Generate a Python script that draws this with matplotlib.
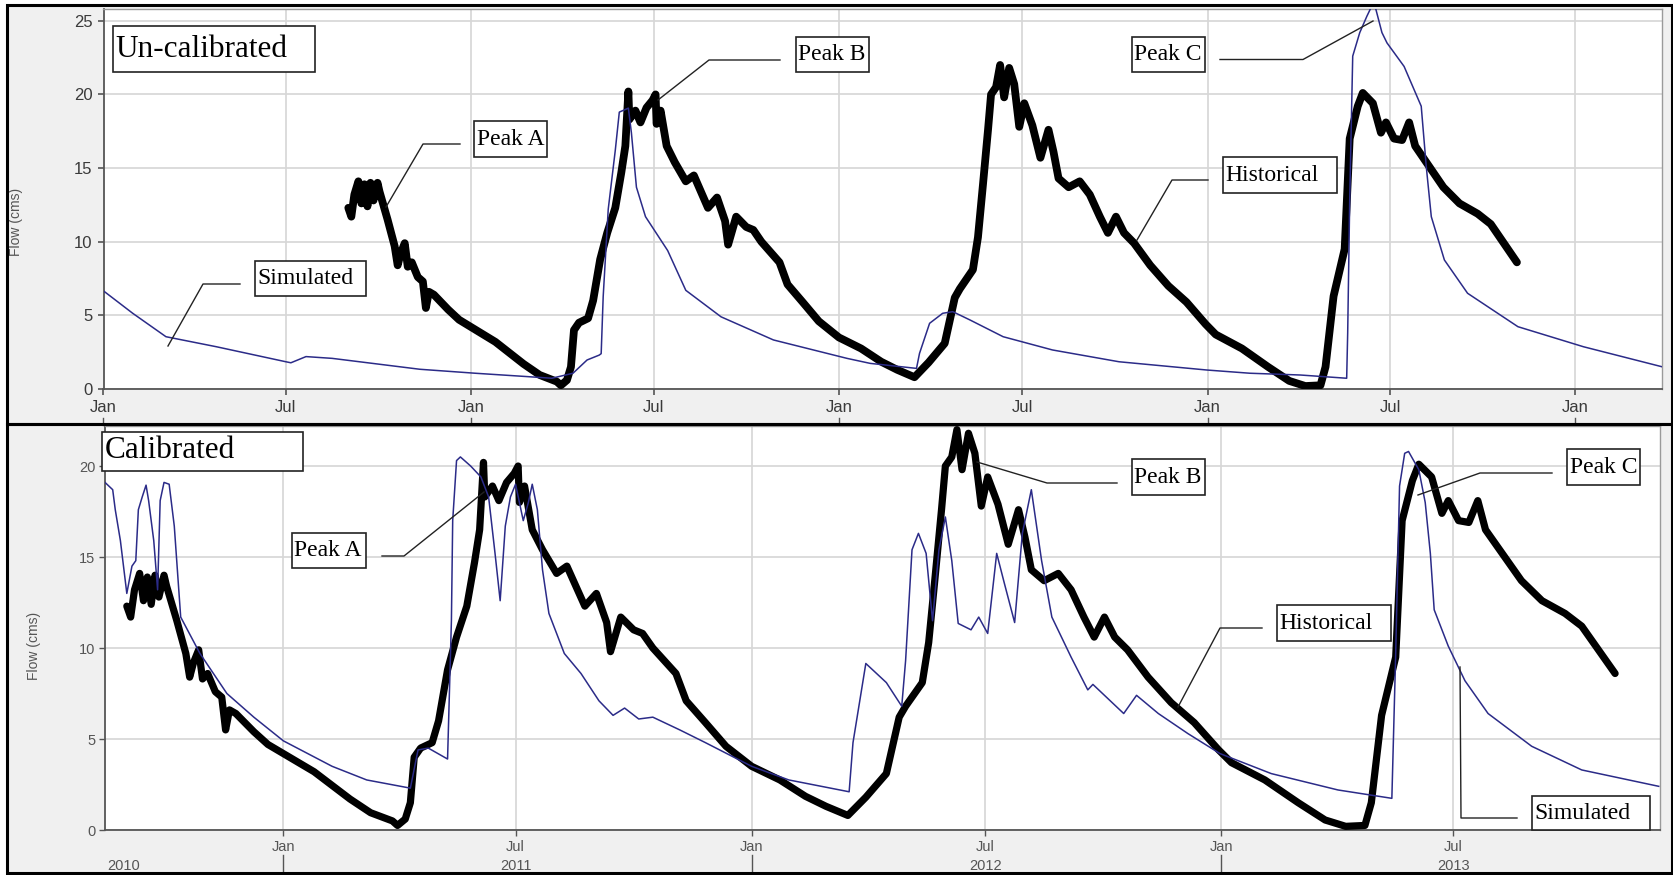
import numpy as np
import pandas as pd
from matplotlib import pyplot as plt
from matplotlib.patches import Rectangle
from matplotlib.lines import Line2D
import matplotlib.dates as mdates

W, H = 1673, 875

# observed flow (same record in both panels)
hist_dates = ['2010-09-01', '2010-09-04', '2010-09-07', '2010-09-11', '2010-09-14', '2010-09-17',
              '2010-09-20', '2010-09-23', '2010-09-26', '2010-09-30', '2010-10-02', '2010-10-10',
              '2010-10-17', '2010-10-20', '2010-10-23', '2010-10-27', '2010-10-30', '2010-11-03',
              '2010-11-09', '2010-11-14', '2010-11-17', '2010-11-20', '2010-11-25', '2010-12-09',
              '2010-12-20', '2011-01-01', '2011-01-25', '2011-02-22', '2011-03-10', '2011-03-27',
              '2011-03-31', '2011-04-06', '2011-04-10', '2011-04-13', '2011-04-18', '2011-04-27',
              '2011-05-02', '2011-05-09', '2011-05-16', '2011-05-24', '2011-05-30', '2011-06-03',
              '2011-06-06', '2011-06-07', '2011-06-13', '2011-06-18', '2011-06-24', '2011-06-30',
              '2011-07-03', '2011-07-04', '2011-07-08', '2011-07-14', '2011-07-22', '2011-08-02',
              '2011-08-10', '2011-08-24', '2011-09-02', '2011-09-10', '2011-09-13', '2011-09-21',
              '2011-10-01', '2011-10-08', '2011-10-16', '2011-11-03', '2011-11-11', '2011-11-26',
              '2011-12-12', '2012-01-01', '2012-01-23', '2012-02-12', '2012-02-28', '2012-03-16',
              '2012-03-30', '2012-04-15', '2012-04-25', '2012-04-30', '2012-05-13', '2012-05-18',
              '2012-05-23', '2012-05-28', '2012-05-31', '2012-06-05', '2012-06-09', '2012-06-13',
              '2012-06-18', '2012-06-23', '2012-06-28', '2012-07-03', '2012-07-11', '2012-07-19',
              '2012-07-27', '2012-08-01', '2012-08-06', '2012-08-16', '2012-08-27', '2012-09-06',
              '2012-09-16', '2012-09-24', '2012-10-02', '2012-10-10', '2012-10-20', '2012-11-05',
              '2012-11-23', '2012-12-11', '2012-12-30', '2013-01-09', '2013-02-04', '2013-03-02',
              '2013-03-23', '2013-04-08', '2013-04-23', '2013-04-28', '2013-05-06', '2013-05-17',
              '2013-05-22', '2013-05-30', '2013-06-04', '2013-06-14', '2013-06-22', '2013-06-27',
              '2013-07-05', '2013-07-13', '2013-07-20', '2013-07-26', '2013-08-08', '2013-08-23',
              '2013-09-08', '2013-09-26', '2013-10-09', '2013-10-22', '2013-11-04']
hist_flow = [12.3, 11.7, 13.2, 14.1, 12.6, 13.9,
             12.4, 14.0, 12.8, 14.0, 13.4, 11.5,
             9.7, 8.4, 9.2, 9.9, 8.3, 8.6,
             7.6, 7.3, 5.5, 6.6, 6.4, 5.4,
             4.7, 4.2, 3.2, 1.7, 0.95, 0.5,
             0.25, 0.6, 1.5, 4.0, 4.5, 4.8,
             6.0, 8.8, 10.6, 12.3, 14.7, 16.5,
             20.2, 18.3, 18.9, 18.1, 19.1, 19.6,
             20.0, 18.0, 18.9, 16.5, 15.4, 14.1,
             14.5, 12.3, 13.0, 11.4, 9.8, 11.7,
             11.0, 10.8, 10.0, 8.6, 7.1, 5.9,
             4.6, 3.5, 2.75, 1.85, 1.3, 0.8,
             1.8, 3.1, 6.2, 6.8, 8.1, 10.3,
             13.9, 17.6, 20.0, 20.5, 22.0, 19.8,
             21.8, 20.7, 17.8, 19.4, 17.9, 15.7,
             17.6, 16.1, 14.3, 13.7, 14.1, 13.2,
             11.7, 10.6, 11.7, 10.6, 9.9, 8.4,
             7.0, 5.9, 4.4, 3.7, 2.75, 1.5,
             0.55, 0.2, 0.25, 1.5, 6.3, 9.5,
             17.0, 19.2, 20.1, 19.4, 17.4, 18.1,
             17.0, 16.9, 18.1, 16.5, 15.2, 13.7,
             12.6, 11.9, 11.2, 9.9, 8.6]

# simulated flow, un-calibrated model (top)
unc_dates = ['2010-01-01', '2010-01-30', '2010-03-04', '2010-04-23', '2010-07-01', '2010-07-06',
             '2010-07-21', '2010-08-16', '2010-11-11', '2011-01-05', '2011-02-26', '2011-03-22',
             '2011-04-12', '2011-04-26', '2011-05-08', '2011-05-10', '2011-05-12', '2011-05-17',
             '2011-05-24', '2011-05-28', '2011-06-06', '2011-06-09', '2011-06-14', '2011-06-23',
             '2011-07-15', '2011-08-02', '2011-09-06', '2011-10-28', '2012-01-09', '2012-02-01',
             '2012-03-18', '2012-03-21', '2012-03-31', '2012-04-13', '2012-04-23', '2012-05-10',
             '2012-06-12', '2012-07-31', '2012-10-05', '2012-12-31', '2013-02-12', '2013-04-03',
             '2013-05-19', '2013-05-20', '2013-05-22', '2013-05-25', '2013-06-01', '2013-06-08',
             '2013-06-15', '2013-06-23', '2013-06-28', '2013-07-15', '2013-08-01', '2013-08-06',
             '2013-08-11', '2013-08-24', '2013-09-16', '2013-11-05', '2014-01-09', '2014-03-28']
unc_flow = [6.66, 5.14, 3.55, 2.87, 1.85, 1.78,
            2.2, 2.08, 1.34, 1.07, 0.84, 0.73,
            1.07, 1.97, 2.3, 2.4, 6.27, 12.2,
            16.2, 18.8, 19.07, 17.4, 13.7, 11.7,
            9.4, 6.7, 4.9, 3.33, 2.08, 1.74,
            1.4, 2.42, 4.46, 5.14, 5.25, 4.69,
            3.55, 2.65, 1.85, 1.29, 1.07, 0.95,
            0.73, 3.78, 12.8, 22.6, 24.2, 25.3,
            26.3, 24.2, 23.5, 21.9, 19.2, 15.1,
            11.7, 8.76, 6.5, 4.23, 2.87, 1.51]

# simulated flow, calibrated model (bottom)
cal_dates = ['2010-08-15', '2010-08-21', '2010-08-23', '2010-08-27', '2010-09-01', '2010-09-05',
             '2010-09-08', '2010-09-10', '2010-09-13', '2010-09-16', '2010-09-18', '2010-09-22',
             '2010-09-25', '2010-09-27', '2010-09-30', '2010-10-04', '2010-10-08', '2010-10-13',
             '2010-10-28', '2010-11-18', '2010-12-09', '2011-01-01', '2011-02-08', '2011-03-07',
             '2011-04-10', '2011-04-16', '2011-04-24', '2011-05-09', '2011-05-12', '2011-05-13',
             '2011-05-16', '2011-05-19', '2011-05-27', '2011-06-04', '2011-06-10', '2011-06-15',
             '2011-06-19', '2011-06-23', '2011-06-27', '2011-07-01', '2011-07-07', '2011-07-11',
             '2011-07-14', '2011-07-18', '2011-07-22', '2011-07-27', '2011-08-08', '2011-08-21',
             '2011-09-04', '2011-09-15', '2011-09-24', '2011-10-05', '2011-10-16', '2011-11-06',
             '2011-11-26', '2012-01-01', '2012-01-30', '2012-03-17', '2012-03-20', '2012-03-30',
             '2012-04-15', '2012-04-27', '2012-04-30', '2012-05-05', '2012-05-10', '2012-05-16',
             '2012-05-21', '2012-05-26', '2012-05-31', '2012-06-05', '2012-06-10', '2012-06-20',
             '2012-06-26', '2012-07-03', '2012-07-10', '2012-07-16', '2012-07-24', '2012-07-30',
             '2012-08-06', '2012-08-14', '2012-08-22', '2012-09-06', '2012-09-19', '2012-09-23',
             '2012-10-17', '2012-10-27', '2012-11-13', '2012-12-06', '2012-12-31', '2013-02-09',
             '2013-04-02', '2013-05-14', '2013-05-17', '2013-05-20', '2013-05-24', '2013-05-27',
             '2013-06-04', '2013-06-09', '2013-06-13', '2013-06-16', '2013-06-27', '2013-07-10',
             '2013-07-28', '2013-08-31', '2013-10-09', '2013-12-08']
cal_flow = [19.1, 18.7, 17.6, 15.9, 13.0, 14.5,
            14.8, 17.6, 18.3, 18.95, 18.1, 15.9,
            13.2, 18.1, 19.1, 19.0, 16.7, 11.7,
            9.7, 7.5, 6.2, 4.9, 3.5, 2.75,
            2.3, 4.4, 4.5, 3.9, 11.5, 17.0,
            20.3, 20.5, 20.0, 19.4, 18.3, 15.2,
            12.6, 16.7, 18.3, 19.0, 17.0, 18.0,
            19.0, 17.6, 14.3, 11.9, 9.7, 8.6,
            7.1, 6.3, 6.7, 6.1, 6.2, 5.5,
            4.8, 3.5, 2.75, 2.1, 4.8, 9.15,
            8.1, 6.8, 9.3, 15.4, 16.3, 15.2,
            11.5, 15.4, 17.2, 14.8, 11.35, 11.0,
            11.7, 10.8, 15.2, 13.55, 11.4, 16.3,
            18.7, 14.8, 11.7, 9.5, 7.7, 8.0,
            6.4, 7.4, 6.4, 5.3, 4.2, 3.1,
            2.2, 1.74, 9.7, 18.9, 20.7, 20.8,
            19.8, 18.0, 15.2, 12.1, 10.1, 8.2,
            6.4, 4.6, 3.3, 2.4]

top_ticks = [0, 5, 10, 15, 20, 25]
bot_ticks = [0, 5, 10, 15, 20]
years = ['2010', '2011', '2012', '2013']

hist_t = pd.to_datetime(hist_dates)
unc_t = pd.to_datetime(unc_dates)
cal_t = pd.to_datetime(cal_dates)

SIM_COL = '#2b2b88'
SERIF = ['Liberation Serif', 'DejaVu Serif']
SANS = ['Liberation Sans', 'DejaVu Sans']


def fx(x):
    return x / W


def fy(y):
    return 1 - y / H


fig = plt.figure(figsize=(W / 100, H / 100), dpi=100)
fig.patch.set_facecolor('white')

# grey panel backgrounds + black frames
for top, bot in [(5, 424), (424, 873)]:
    fig.patches.append(Rectangle((fx(7), fy(bot)), fx(1672) - fx(7), fy(top) - fy(bot),
                                 transform=fig.transFigure, facecolor='#f0f0f0',
                                 edgecolor='none', zorder=-2))
    fig.patches.append(Rectangle((fx(7), fy(bot)), fx(1672) - fx(7), fy(top) - fy(bot),
                                 transform=fig.transFigure, facecolor='none',
                                 edgecolor='black', lw=2.2, zorder=8))

ax1 = fig.add_axes([fx(103.5), fy(389), fx(1662) - fx(103.5), (389 - 9) / H])
ax2 = fig.add_axes([fx(105), fy(830), fx(1660) - fx(105), (830 - 426) / H])

for ax, lw in ((ax1, 5.6), (ax2, 5.2)):
    ax.set_facecolor('white')
    ax.set_axisbelow(True)
    ax.grid(True, color='#d6d6d6', lw=1.2)
    ax.xaxis.set_major_locator(mdates.MonthLocator(bymonth=[1, 7]))
    ax.xaxis.set_major_formatter(mdates.DateFormatter('%b'))
    for s in ('left', 'bottom'):
        ax.spines[s].set_color('#555555')
        ax.spines[s].set_linewidth(1.3)
    for s in ('top', 'right'):
        ax.spines[s].set_color('#9a9a9a')
        ax.spines[s].set_linewidth(1.0)
    ax.plot(hist_t, hist_flow, color='black', lw=lw, solid_joinstyle='round',
            solid_capstyle='round', zorder=3)

ax1.plot(unc_t, unc_flow, color=SIM_COL, lw=1.1, zorder=4)
ax2.plot(cal_t, cal_flow, color=SIM_COL, lw=1.1, zorder=4)

ax1.set_xlim(pd.Timestamp('2010-01-01'), pd.Timestamp('2014-03-28'))
ax1.set_ylim(0, 25.8)
ax1.set_yticks(top_ticks)
ax2.set_xlim(pd.Timestamp('2010-08-15'), pd.Timestamp('2013-12-09'))
ax2.set_ylim(0, 22.2)
ax2.set_yticks(bot_ticks)

ax1.tick_params(labelsize=12, labelcolor='#3a3a3a', color='#555555', length=4, width=1.2, pad=4)
ax2.tick_params(labelsize=10.5, labelcolor='#555555', color='#555555', length=4, width=1.0, pad=3)
for ax in (ax1, ax2):
    for lab in ax.get_xticklabels() + ax.get_yticklabels():
        lab.set_family(SANS)

# year row under the bottom axis
xt2 = ax2.get_xaxis_transform()
for i, yr in enumerate(years):
    if i == 0:
        ax2.text(pd.Timestamp('2010-08-17'), -0.088, yr, transform=xt2, ha='left', va='center',
                 fontsize=10.5, color='#555555', family=SANS)
    else:
        ax2.text(pd.Timestamp(yr + '-07-01'), -0.088, yr, transform=xt2, ha='center', va='center',
                 fontsize=10.5, color='#555555', family=SANS)
        ax2.plot([pd.Timestamp(yr + '-01-01')] * 2, [-0.062, -0.11], transform=xt2,
                 color='#555555', lw=1.0, clip_on=False)

# cut-off year separators under the top axis
xt1 = ax1.get_xaxis_transform()
for yr in ['2010', '2011', '2012', '2013', '2014']:
    ax1.plot([pd.Timestamp(yr + '-01-01')] * 2, [-0.076, -0.095], transform=xt1,
             color='#555555', lw=1.0, clip_on=False)

fig.text(fx(16), fy(222), 'Flow (cms)', rotation=90, ha='center', va='center',
         fontsize=10, color='#555555', family=SANS)
fig.text(fx(34), fy(646), 'Flow (cms)', rotation=90, ha='center', va='center',
         fontsize=10, color='#555555', family=SANS)


def label_box(x0, y0, x1, y1, text, size):
    fig.patches.append(Rectangle((fx(x0), fy(y1)), fx(x1) - fx(x0), fy(y0) - fy(y1),
                                 transform=fig.transFigure, facecolor='white',
                                 edgecolor='#222222', lw=1.2, zorder=5))
    fig.text(fx(x0 + 2.5), fy(y0 + 0.67 * (y1 - y0)), text, fontsize=size, family=SERIF,
             ha='left', va='baseline', color='black', zorder=6)


def leader(xs, ys):
    fig.lines.append(Line2D([fx(x) for x in xs], [fy(y) for y in ys],
                            transform=fig.transFigure, color='#222222', lw=1.0, zorder=5))


# top panel callouts
label_box(113, 26, 315, 72, 'Un-calibrated', 22.5)
label_box(255, 261, 366, 296, 'Simulated', 17)
leader([240, 203, 168], [284, 284, 346])
label_box(474, 121, 547, 157, 'Peak A', 17)
leader([460, 423, 386], [144, 144, 207])
label_box(796, 37, 869, 72, 'Peak B', 17)
leader([780, 709, 658], [60, 60, 100])
label_box(1132, 37, 1205, 72, 'Peak C', 17)
leader([1220, 1303, 1373], [59.5, 59.5, 21])
label_box(1223, 157, 1337, 193, 'Historical', 17)
leader([1208, 1172, 1137], [180, 180, 240])

# bottom panel callouts
label_box(102, 432, 303, 471, 'Calibrated', 22.5)
label_box(292, 533, 366, 568, 'Peak A', 17)
leader([382, 404, 484], [556, 556, 492])
label_box(1132, 459, 1205, 495, 'Peak B', 17)
leader([1117, 1047, 977], [483, 483, 462])
label_box(1277, 605, 1391, 641, 'Historical', 17)
leader([1262, 1220, 1178], [628, 628, 707])
label_box(1567, 449, 1640, 485, 'Peak C', 17)
leader([1552, 1480, 1418], [473, 473, 495])
label_box(1532, 796, 1650, 830, 'Simulated', 17)
leader([1517, 1461, 1460], [818, 818, 667])

fig.savefig('out.png', dpi=100)
